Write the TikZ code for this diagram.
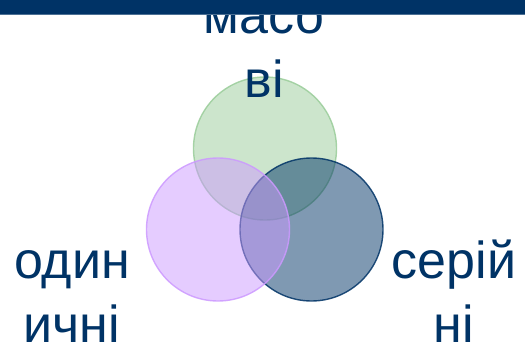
\documentclass[tikz,border=0pt]{standalone}
\usepackage{fontspec}
\setmainfont{Liberation Sans}
\usetikzlibrary{positioning}

\definecolor{navy}{HTML}{003366}
\definecolor{leaf}{HTML}{99CC99}
\definecolor{lilac}{HTML}{CC99FF}

\tikzset{
	ring/.style={circle, inner sep=0pt, minimum size=143pt, line width=1.4pt,
		fill opacity=0.5, draw opacity=0.85},
	word/.style={text=navy, align=center, inner sep=0pt, anchor=base,
		font=\fontsize{52}{64}\selectfont}
}

\begin{document}
\begin{tikzpicture}[x=1pt,y=-1pt]

	% frame
	\useasboundingbox (0,0) rectangle (525,345);

	% circles
	\node[ring, draw=leaf, fill=leaf] (mass) at (265,148.5) {};
	\node[ring, draw=navy, fill=navy] (series) at (311.5,229.5) {};
	\node[ring, draw=lilac, fill=lilac] (single) at (218,229.5) {};

	% labels (base = last line)
	\node[word] (tmass) at (264,97) {масо\\ві};
	\node[word] (tsingle) at (72,342) {один\\ичні};
	\node[word] (tseries) at (454,342) {серій\\ні};

	% top bar
	\fill[navy] (0,0) rectangle (525,14.5);
	\draw[navy!70!white, line width=0.6pt] (0,14.5) -- (525,14.5);

\end{tikzpicture}
\end{document}
